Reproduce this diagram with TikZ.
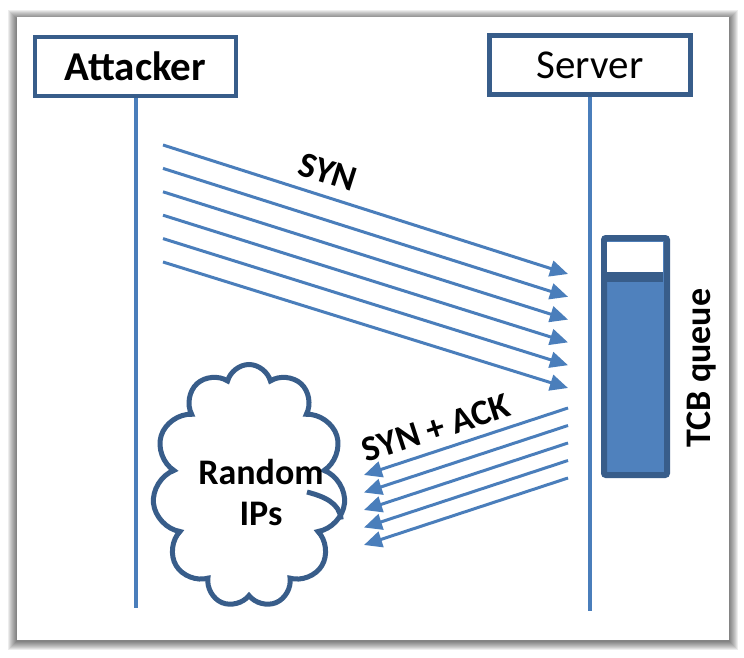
\documentclass[tikz,border=0pt]{standalone}
\usepackage{fontspec}
\setmainfont{Carlito}
\usetikzlibrary{arrows.meta,shapes.symbols}
\definecolor{lineblue}{HTML}{4A7EBB}
\definecolor{darkblue}{HTML}{385D8A}
\definecolor{fillblue}{HTML}{4F81BD}
\tikzstyle{actor}=[draw=darkblue, line width=4.5pt, fill=white, minimum width=201pt, minimum height=59pt, inner sep=0pt, font=\fontsize{41}{44}\selectfont]
\tikzstyle{lifeline}=[draw=lineblue, line width=4pt]
\tikzstyle{msg}=[draw=lineblue, line width=3pt, -{Triangle[length=18pt,width=16pt]}]
\tikzstyle{msglabel}=[font=\bfseries\fontsize{36}{41}\selectfont, inner sep=0pt, align=center]

\begin{document}
\begin{tikzpicture}[x=1pt, y=-1pt]
    \useasboundingbox (0,0) rectangle (744,658);
    % frame with soft shadow
    \foreach \s in {1,...,9}
        \fill[black, opacity=0.07] (17-\s, 19-\s) rectangle (729+\s, 641+\s);
    \fill[white] (17,17) rectangle (729,640);

    \node [actor, font=\bfseries\fontsize{41}{44}\selectfont] (att) at (135.5,66.5) {Attacker};
    \node [actor] (srv) at (590,65) {Server};
    \coordinate (attend) at (135,608);
    \coordinate (srvend) at (589,611);
    \draw [lifeline] (att.south) -- (att.south |- attend);
    \draw [lifeline] (srv.south) -- (srv.south |- srvend);

    % SYN flood
    \foreach \i in {0,...,5} {
        \coordinate (syn\i) at (163, 145+23.4*\i);
        \coordinate (tcb\i) at (568, 274+22.8*\i);
        \draw [msg] (syn\i) -- (tcb\i);
    }
    \node [msglabel, rotate=-17.7] (synlbl) at (328,172) {SYN};

    % replies to spoofed sources
    \foreach \i in {0,...,4} {
        \coordinate (ack\i) at (568, 408+17.5*\i);
        \coordinate (rip\i) at (364, 475+17.5*\i);
        \draw [msg] (ack\i) -- (rip\i);
    }
    \node [msglabel, rotate=18] (acklbl) at (436,428) {SYN + ACK};

    \node [cloud, cloud puffs=11, cloud ignores aspect, draw=darkblue, line width=5pt, minimum width=193pt, minimum height=243pt] (ips) at (249,486) {};
    \draw [darkblue, line width=5pt] (307,492) to [out=-15, in=95] (ips.-20);
    \node [msglabel] (ipslbl) at (261,492) {Random\\IPs};

    % queue
    \node [draw=darkblue, line width=6pt, fill=fillblue, rounded corners=2pt, minimum width=63pt, minimum height=237pt, inner sep=0pt] (queue) at (635.5,356.5) {};
    \node [fill=white, minimum width=56pt, minimum height=30pt, inner sep=0pt] (free) at (635,257) {};
    \fill [darkblue] (free.south west) rectangle ([yshift=-10pt]free.south east);
    \node [msglabel, rotate=90] (tcblbl) at (702,368) {TCB queue};
\end{tikzpicture}
\end{document}
